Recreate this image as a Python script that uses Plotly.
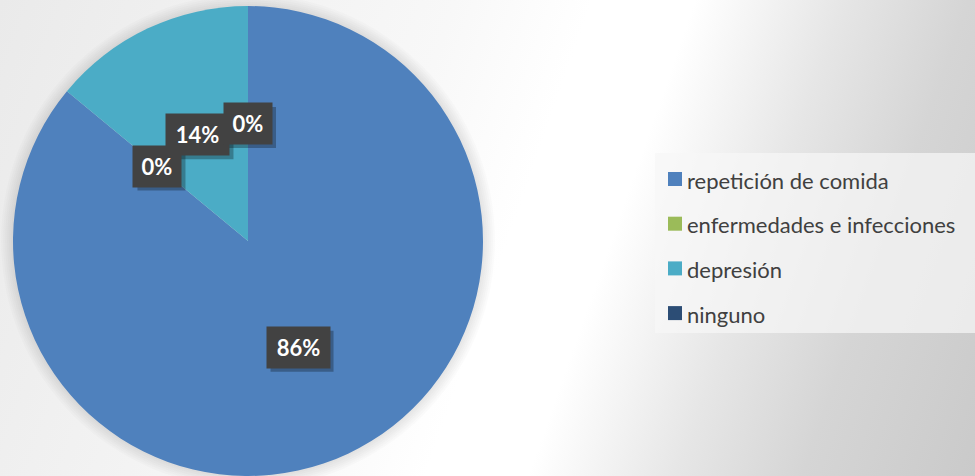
import base64
import math
import plotly.graph_objects as go

# ---------------- data ----------------
labels = ["repetición de comida", "enfermedades e infecciones", "depresión", "ninguno"]
values = [86, 0, 14, 0]
colors = ["#4F81BD", "#9BBB59", "#4BACC6", "#2C4D75"]

# ---------------- geometry / style ----------------
W, H = 975, 476
CX, CY, R = 248, 241, 235          # pie centre (px from top-left) and radius
LABEL_FONT = "Lato"

def px(x):
    return x / W

def py(y):
    return 1 - y / H

# background gradient (decorative) as an inline SVG
stops = [(0.00, "#eaeaea"), (0.40, "#f8f8f8"), (0.52, "#ffffff"), (0.61, "#ffffff"),
         (0.74, "#e6e6e6"), (0.85, "#d5d5d5"), (1.00, "#cacaca")]
stop_xml = "".join(f'<stop offset="{o}" stop-color="{c}"/>' for o, c in stops)
svg = (f'<svg xmlns="http://www.w3.org/2000/svg" width="{W}" height="{H}" viewBox="0 0 {W} {H}" preserveAspectRatio="none">'
       f'<defs><linearGradient id="g" gradientUnits="userSpaceOnUse" x1="0" y1="0" x2="1015" y2="356">{stop_xml}'
       f'</linearGradient></defs><rect width="{W}" height="{H}" fill="url(#g)"/></svg>')
bg_uri = "data:image/svg+xml;base64," + base64.b64encode(svg.encode()).decode()

fig = go.Figure()
fig.add_trace(go.Pie(
    labels=labels, values=values,
    marker=dict(colors=colors, line=dict(width=0)),
    sort=False, direction="clockwise", rotation=0,
    textinfo="none", showlegend=False,
    domain=dict(x=[px(CX - R), px(CX + R)], y=[py(CY + R), py(CY - R)]),
    hovertemplate="%{label}: %{percent}<extra></extra>",
))

shapes = []
# soft shadow around the pie
for k in range(1, 7):
    rr = R + 2 * k
    shapes.append(dict(type="circle", xref="paper", yref="paper", layer="below",
                       x0=px(CX - rr), x1=px(CX + rr), y0=py(CY + rr), y1=py(CY - rr),
                       fillcolor="rgba(0,0,0,0.016)", line=dict(width=0)))

annotations = []
# data labels (computed from slice angles)
total = sum(values)
cum = 0
PAD, TH = 6, 29
for v in values:
    start = cum / total * 360
    mid = math.radians(start + v / total * 180)
    cum += v
    lx = CX + 0.5 * R * math.sin(mid)
    ly = CY - 0.5 * R * math.cos(mid)
    txt = f"{v / total * 100:.0f}%"
    bw = 15 * len(txt) + 6
    hw, hh = bw / 2 + PAD, TH / 2 + PAD
    # box shadow (pixel-sized rectangle anchored at the label position)
    shapes.append(dict(type="rect", xref="paper", yref="paper", layer="above",
                       xsizemode="pixel", ysizemode="pixel",
                       xanchor=px(lx), yanchor=py(ly),
                       x0=-hw + 4, x1=hw + 4, y0=-hh - 4, y1=hh - 4,
                       fillcolor="rgba(0,0,0,0.28)", line=dict(width=0)))
    annotations.append(dict(xref="paper", yref="paper", x=px(lx), y=py(ly), showarrow=False,
                            xanchor="center", yanchor="middle",
                            width=bw, height=TH, borderpad=PAD,
                            text=txt, bgcolor="#424242",
                            font=dict(family=LABEL_FONT, size=22, weight="bold", color="#ffffff")))

# custom legend
LEG_X0, LEG_Y0, LEG_X1, LEG_Y1 = 655, 153, 975, 333
shapes.append(dict(type="rect", xref="paper", yref="paper", layer="below",
                   x0=px(LEG_X0), x1=px(LEG_X1), y0=py(LEG_Y1), y1=py(LEG_Y0),
                   fillcolor="rgba(246,246,246,0.72)", line=dict(width=0)))
for i, (lab, col) in enumerate(zip(labels, colors)):
    yc = 180 + 44.7 * i
    shapes.append(dict(type="rect", xref="paper", yref="paper",
                       x0=px(668), x1=px(682), y0=py(yc + 6), y1=py(yc - 8),
                       fillcolor=col, line=dict(width=0)))
    annotations.append(dict(xref="paper", yref="paper", x=px(685), y=py(yc),
                            xanchor="left", yanchor="middle", showarrow=False, text=lab,
                            font=dict(family=LABEL_FONT, size=22, color="#404040")))

fig.update_layout(
    width=W, height=H, margin=dict(l=0, r=0, t=0, b=0),
    paper_bgcolor="#ffffff", plot_bgcolor="rgba(0,0,0,0)",
    images=[dict(source=bg_uri, xref="paper", yref="paper", x=0, y=1, sizex=1, sizey=1,
                 xanchor="left", yanchor="top", sizing="stretch", layer="below")],
    shapes=shapes, annotations=annotations,
)

fig.write_html("out.html")
